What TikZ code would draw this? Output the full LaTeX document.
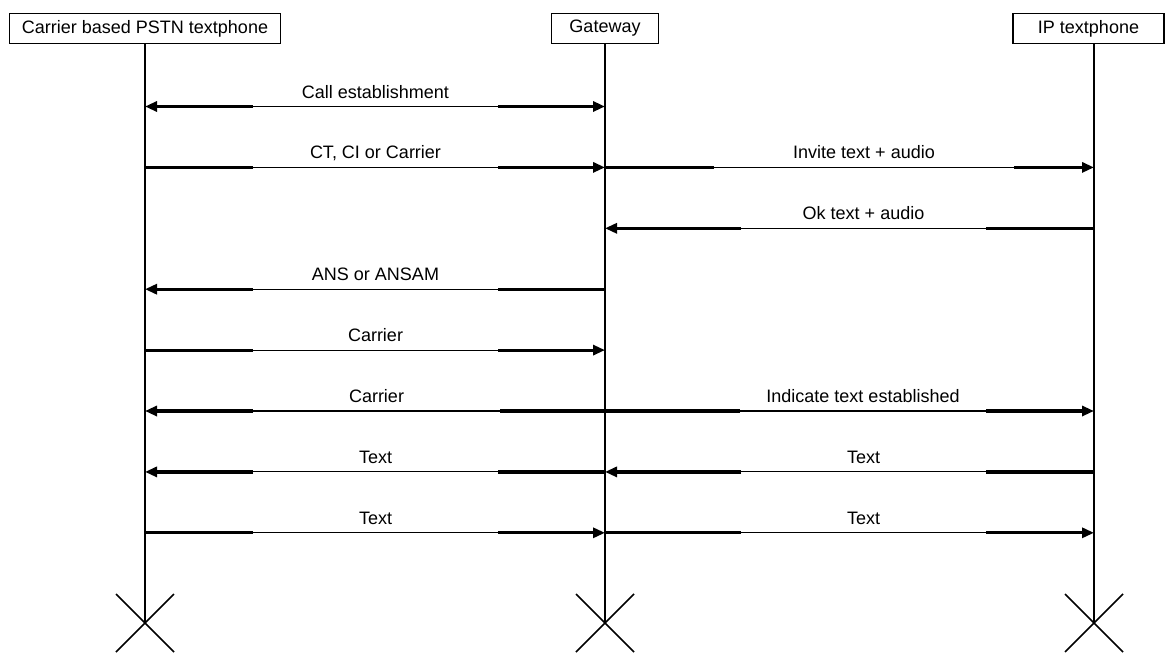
\documentclass[tikz,border=0pt]{standalone}
\usepackage{fontspec}
\setmainfont{Liberation Sans}
\usetikzlibrary{arrows.meta,positioning,calc}

\begin{document}
\begin{tikzpicture}[
    x=1pt, y=-1pt,
    >={Triangle[length=12pt,width=10pt]},
    party/.style={draw, line width=1.2pt, minimum height=30pt, inner sep=0pt,
                  font=\fontsize{18pt}{20pt}\selectfont},
    life/.style={line width=1.6pt},
    stub/.style={line width=3.2pt},
    msg/.style={line width=1.1pt},
    lbl/.style={font=\fontsize{18pt}{20pt}\selectfont, anchor=base,
                yshift=8.5pt, inner sep=0pt},
  ]
  \useasboundingbox (0,0) rectangle (1166,653);

  % Parties
  \coordinate (L1) at (145,44);
  \coordinate (L2) at (605,44);
  \coordinate (L3) at (1094,44);
  \node[party, above=0pt of L1, minimum width=271pt] (pstn) {Carrier based PSTN textphone};
  \node[party, above=0pt of L2, minimum width=107pt] (gw) {Gateway};
  \node[party, above=0pt of L3, xshift=-5.5pt, minimum width=151pt] (ip) {IP textphone};

  % Lifelines, ended by a cross
  \coordinate (E1) at (145,623);
  \coordinate (E2) at (605,623);
  \coordinate (E3) at (1094,623);
  \foreach \l/\e in {L1/E1, L2/E2, L3/E3} {
    \draw[life] (\l) -- (\e);
    \draw[life] ($(\e)+(-29,-29)$) -- ($(\e)+(29,29)$);
    \draw[life] ($(\e)+(29,-29)$) -- ($(\e)+(-29,29)$);
  }

  % Messages: thick stubs at both ends, thin in the middle
  \foreach \y/\l/\r/\ta/\tb/\a/\b/\txt in {
      106.5/L1/L2/->/->/108/107/Call establishment,
      167.4/L1/L2/-/->/108/107/{CT, CI or Carrier},
      167.4/L2/L3/-/->/109/80/Invite text + audio,
      228.3/L2/L3/->/-/136/108/Ok text + audio,
      289.2/L1/L2/->/-/108/107/ANS or ANSAM,
      350.1/L1/L2/-/->/108/107/Carrier,
      411/L1/L2/->/-/108/105/Carrier,
      411/L2/L3/-/->/135/108/Indicate text established,
      471.9/L1/L2/->/-/108/107/Text,
      471.9/L2/L3/->/-/136/108/Text,
      532.8/L1/L2/-/->/108/107/Text,
      532.8/L2/L3/-/->/136/108/Text} {
    \coordinate (s) at (\l |- 0,\y);
    \coordinate (t) at (\r |- 0,\y);
    \draw[stub,\ta] ($(s)+(\a,0)$) coordinate (sa) -- (s);
    \draw[stub,\tb] ($(t)+(-\b,0)$) coordinate (tb) -- (t);
    \draw[msg] (sa) -- node[lbl] {\txt} (tb);
  }
\end{tikzpicture}
\end{document}
